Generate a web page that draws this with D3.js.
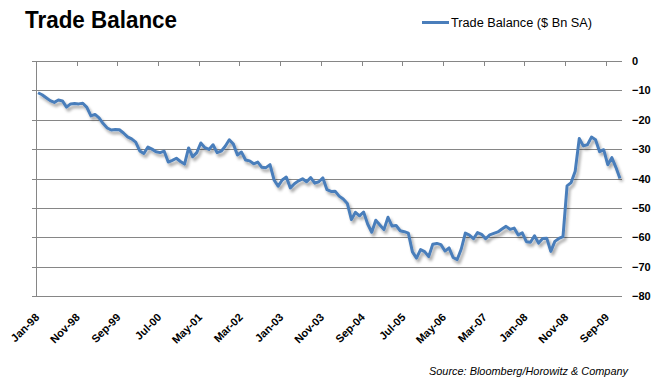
<!DOCTYPE html>
<html>
<head>
<meta charset="utf-8">
<script src="https://cdn.jsdelivr.net/npm/d3@7"></script>
<style>
  body { margin: 0; background: #fff; }
  svg { display: block; }
  text { font-family: "Liberation Sans", Arial, sans-serif; }
</style>
</head>
<body>
<svg width="659" height="386"></svg>
<script>
// monthly categories, Jan-98 .. Dec-09
const months = d3.timeMonth.range(new Date(1998, 0, 1), new Date(2010, 0, 1));

// trade balance, $ Bn SA
const balance = [
  -10.8, -11.5, -12.5, -13.5, -14.1, -13.3, -13.6, -15.7, -14.6, -14.5, -14.6, -14.4,
  -15.8, -18.7, -18.2, -19.4, -21.3, -22.8, -23.5, -23.3, -23.4, -24.5, -25.8, -26.5,
  -27.6, -30.6, -31.5, -29.3, -30.0, -30.9, -31.2, -30.7, -34.4, -33.8, -33.1, -34.2,
  -35.1, -29.6, -32.6, -31.2, -27.9, -29.5, -30.1, -28.5, -31.2, -30.7, -29.0, -26.8,
  -28.3, -32.0, -31.0, -33.7, -34.0, -35.0, -34.4, -36.2, -36.3, -35.3, -40.5, -42.6,
  -40.5, -39.5, -43.2, -41.8, -40.8, -40.1, -41.1, -39.7, -41.6, -41.1, -39.8, -43.8,
  -44.4, -44.3, -46.0, -47.0, -48.5, -54.0, -51.5, -52.7, -51.4, -55.5, -58.3, -54.2,
  -55.8, -57.4, -53.2, -56.2, -56.0, -57.8, -58.1, -58.6, -65.0, -67.1, -64.2, -64.9,
  -66.6, -62.4, -62.1, -62.5, -64.7, -63.6, -66.9, -67.6, -64.0, -58.6, -59.3, -60.5,
  -58.4, -59.0, -60.5, -59.2, -58.7, -58.2, -57.2, -56.3, -57.3, -56.9, -59.2, -58.5,
  -61.5, -61.7, -59.5, -62.0, -60.4, -60.3, -64.8, -61.4, -60.4, -59.8, -42.5, -41.4,
  -37.5, -26.4, -28.9, -28.5, -25.9, -26.8, -30.9, -30.2, -35.3, -32.9, -36.2, -40.0
];

const tickLabels = ["Jan-98", "Nov-98", "Sep-99", "Jul-00", "May-01", "Mar-02", "Jan-03",
  "Nov-03", "Sep-04", "Jul-05", "May-06", "Mar-07", "Jan-08", "Nov-08", "Sep-09"];

const yTicks = [0, -10, -20, -30, -40, -50, -60, -70, -80];

const lineColor = "#4a7ebb";
const gridColor = "#868686";

const svg = d3.select("svg");

const x = d3.scaleBand()
  .domain(months)
  .range([36, 622]);

const y = d3.scaleLinear()
  .domain([-80, 0])
  .range([296, 61]);

const tickMonths = months.filter((d, i) => i % 10 == 0);

// shadow under the line
const defs = svg.append("defs");
const f = defs.append("filter").attr("id", "shadow")
  .attr("x", "-5%").attr("y", "-10%").attr("width", "110%").attr("height", "130%");
f.append("feGaussianBlur").attr("in", "SourceAlpha").attr("stdDeviation", 1.4).attr("result", "b");
f.append("feOffset").attr("in", "b").attr("dx", 2).attr("dy", 3).attr("result", "o");
f.append("feComponentTransfer").attr("in", "o").attr("result", "s")
  .append("feFuncA").attr("type", "linear").attr("slope", 0.35);
const m = f.append("feMerge");
m.append("feMergeNode").attr("in", "s");
m.append("feMergeNode").attr("in", "SourceGraphic");

// gridlines
svg.append("g")
  .selectAll("line")
  .data(yTicks)
  .enter()
  .append("line")
  .attr("x1", 32)
  .attr("x2", 622)
  .attr("y1", d => Math.round(y(d)) + 0.5)
  .attr("y2", d => Math.round(y(d)) + 0.5)
  .attr("stroke", gridColor)
  .attr("stroke-width", 1);

// left axis line
svg.append("line")
  .attr("x1", 36.5).attr("x2", 36.5)
  .attr("y1", y(0)).attr("y2", y(-80) + 1)
  .attr("stroke", gridColor);

// category ticks on the zero line
svg.append("g")
  .selectAll("line")
  .data(tickMonths)
  .enter()
  .append("line")
  .attr("x1", d => Math.round(x(d)) + 0.5)
  .attr("x2", d => Math.round(x(d)) + 0.5)
  .attr("y1", y(0))
  .attr("y2", y(0) + 5)
  .attr("stroke", gridColor);

// right value labels
const yAxis = svg.append("g")
  .attr("transform", "translate(622,0)")
  .call(d3.axisRight(y).tickValues(yTicks).tickSize(0).tickPadding(10).tickFormat(d3.format("d")));
yAxis.select(".domain").remove();
yAxis.selectAll("text")
  .attr("font-family", "Liberation Sans, Arial, sans-serif")
  .attr("font-size", 11)
  .attr("font-weight", "bold")
  .attr("fill", "#000");

// category labels
svg.append("g")
  .selectAll("text")
  .data(tickMonths)
  .enter()
  .append("text")
  .attr("transform", d => "translate(" + (x(d) + 4) + ",318) rotate(-45)")
  .attr("text-anchor", "end")
  .attr("font-size", 11)
  .attr("font-weight", "bold")
  .attr("fill", "#000")
  .text((d, i) => tickLabels[i]);

// the series
const line = d3.line()
  .x((d, i) => x(months[i]) + x.bandwidth() / 2)
  .y(d => y(d));

svg.append("path")
  .datum(balance)
  .attr("d", line)
  .attr("fill", "none")
  .attr("stroke", lineColor)
  .attr("stroke-width", 3)
  .attr("stroke-linejoin", "round")
  .attr("filter", "url(#shadow)");

// title
svg.append("text")
  .attr("x", 25)
  .attr("y", 28)
  .attr("font-size", 23)
  .attr("font-weight", "bold")
  .attr("textLength", 152)
  .attr("lengthAdjust", "spacingAndGlyphs")
  .text("Trade Balance");

// legend
svg.append("line")
  .attr("x1", 422).attr("x2", 449)
  .attr("y1", 22.5).attr("y2", 22.5)
  .attr("stroke", lineColor)
  .attr("stroke-width", 3);
svg.append("text")
  .attr("x", 451)
  .attr("y", 27)
  .attr("font-size", 12.5)
  .attr("textLength", 141)
  .attr("lengthAdjust", "spacingAndGlyphs")
  .text("Trade Balance ($ Bn SA)");

// source note
svg.append("text")
  .attr("x", 628)
  .attr("y", 375)
  .attr("text-anchor", "end")
  .attr("font-size", 11)
  .attr("font-style", "italic")
  .attr("textLength", 199)
  .attr("lengthAdjust", "spacingAndGlyphs")
  .text("Source: Bloomberg/Horowitz & Company");
</script>
</body>
</html>
